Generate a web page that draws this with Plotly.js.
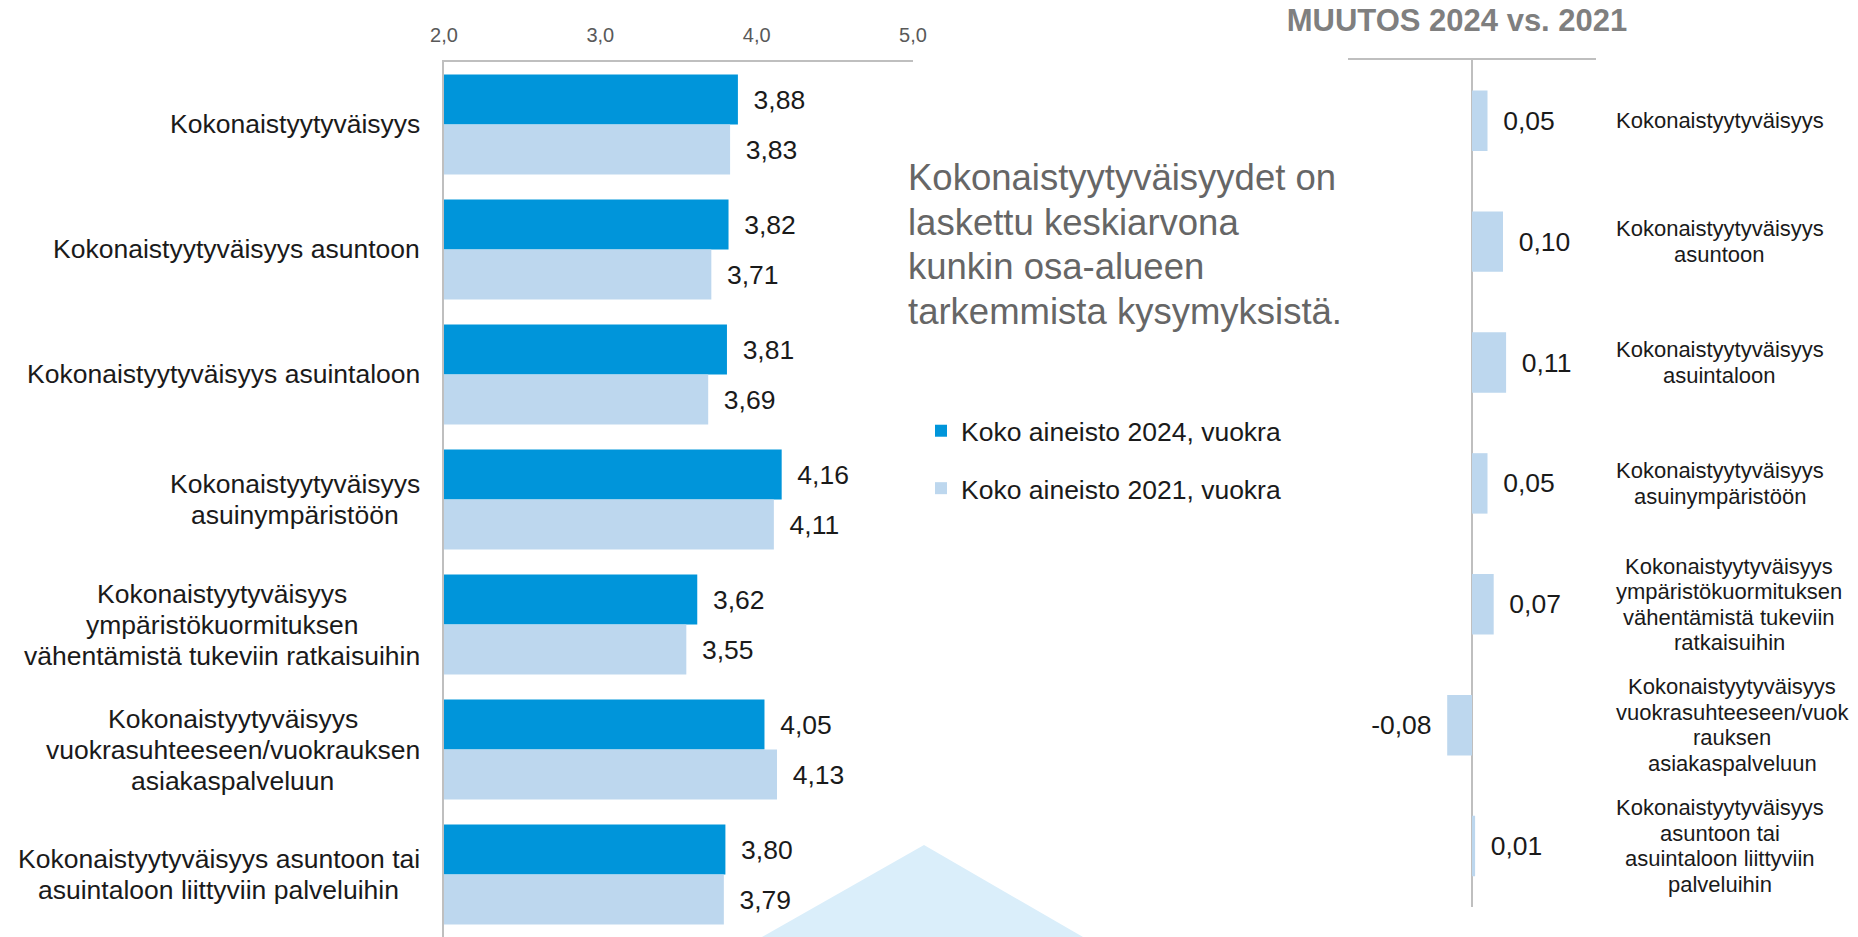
<!DOCTYPE html>
<html><head><meta charset="utf-8">
<script src="https://cdn.plot.ly/plotly-3.0.1.min.js"></script>
<style>html,body{margin:0;padding:0;background:#fff}#chart{width:1858px;height:937px}</style>
</head><body><div id="chart"></div>
<script>
// ---- data ----
const categories = [
  'Kokonaistyytyväisyys',
  'Kokonaistyytyväisyys asuntoon',
  'Kokonaistyytyväisyys asuintaloon',
  'Kokonaistyytyväisyys asuinympäristöön',
  'Kokonaistyytyväisyys ympäristökuormituksen vähentämistä tukeviin ratkaisuihin',
  'Kokonaistyytyväisyys vuokrasuhteeseen/vuokrauksen asiakaspalveluun',
  'Kokonaistyytyväisyys asuntoon tai asuintaloon liittyviin palveluihin'
];
const leftLabels = [
  'Kokonaistyytyväisyys',
  'Kokonaistyytyväisyys asuntoon',
  'Kokonaistyytyväisyys asuintaloon',
  'Kokonaistyytyväisyys<br>asuinympäristöön',
  'Kokonaistyytyväisyys<br>ympäristökuormituksen<br>vähentämistä tukeviin ratkaisuihin',
  'Kokonaistyytyväisyys<br>vuokrasuhteeseen/vuokrauksen<br>asiakaspalveluun',
  'Kokonaistyytyväisyys asuntoon tai<br>asuintaloon liittyviin palveluihin'
];
const rightLabels = [
  'Kokonaistyytyväisyys',
  'Kokonaistyytyväisyys<br>asuntoon',
  'Kokonaistyytyväisyys<br>asuintaloon',
  'Kokonaistyytyväisyys<br>asuinympäristöön',
  'Kokonaistyytyväisyys<br>ympäristökuormituksen<br>vähentämistä tukeviin<br>ratkaisuihin',
  'Kokonaistyytyväisyys<br>vuokrasuhteeseen/vuok<br>rauksen<br>asiakaspalveluun',
  'Kokonaistyytyväisyys<br>asuntoon tai<br>asuintaloon liittyviin<br>palveluihin'
];
const values2024 = [3.88, 3.82, 3.81, 4.16, 3.62, 4.05, 3.80];
const values2021 = [3.83, 3.71, 3.69, 4.11, 3.55, 4.13, 3.79];
const change = [0.05, 0.10, 0.11, 0.05, 0.07, -0.08, 0.01];
const tickValues = [2, 3, 4, 5];
const seriesNames = ['Koko aineisto 2024, vuokra', 'Koko aineisto 2021, vuokra'];
const changeTitle = 'MUUTOS 2024 vs. 2021';
const noteLines = ['Kokonaistyytyväisyydet on', 'laskettu keskiarvona', 'kunkin osa-alueen', 'tarkemmista kysymyksistä.'];

// ---- helpers ----
const W = 1858, H = 937;
const FONT = '"Liberation Sans", Arial, sans-serif';
const px = x => x / W, py = y => 1 - y / H;
const ctx = document.createElement('canvas').getContext('2d');
const textW = (s, size) => { ctx.font = size + 'px ' + FONT; return ctx.measureText(s).width; };
const fmt = v => v.toFixed(2).replace('.', ',');
const PAD = '\u00a0\u2009';

const C_DARK = '#0095da', C_LIGHT = '#bdd7ee', C_AXIS = '#bfbfbf';

const traces = [
  {type:'bar', orientation:'h', name: seriesNames[0], x: values2024, y: categories,
   marker:{color:C_DARK}, text: values2024.map(v => PAD + fmt(v)), textposition:'outside',
   textfont:{family:FONT, size:26.5, color:'#1a1a1a'}, constraintext:'none', cliponaxis:false,
   hoverinfo:'skip', legendgroup:'a', xaxis:'x', yaxis:'y'},
  {type:'bar', orientation:'h', name: seriesNames[1], x: values2021, y: categories,
   marker:{color:C_LIGHT}, text: values2021.map(v => PAD + fmt(v)), textposition:'outside',
   textfont:{family:FONT, size:26.5, color:'#1a1a1a'}, constraintext:'none', cliponaxis:false,
   hoverinfo:'skip', legendgroup:'b', xaxis:'x', yaxis:'y'},
  {type:'bar', orientation:'h', name:'Muutos', x: change, y: categories, width:0.5,
   marker:{color:C_LIGHT}, text: change.map(v => v < 0 ? fmt(v) + PAD : PAD + fmt(v)), textposition:'outside',
   textfont:{family:FONT, size:26.5, color:'#1a1a1a'}, constraintext:'none', cliponaxis:false,
   hoverinfo:'skip', showlegend:false, xaxis:'x2', yaxis:'y2'}
];

const annotations = [];
leftLabels.forEach((lab, i) => {
  const lines = lab.split('<br>');
  const maxW = Math.max(...lines.map(l => textW(l, 26.5)));
  const cx = px(420 - maxW / 2);
  lines.forEach((ln, j) => annotations.push({
    xref:'paper', yref:'y', x: cx, y: categories[i], xanchor:'center', yanchor:'middle',
    yshift: ((lines.length - 1) / 2 - j) * 31, text: ln, showarrow:false,
    font:{family:FONT, size:26.5, color:'#1a1a1a'}
  }));
});
rightLabels.forEach((lab, i) => {
  const lines = lab.split('<br>');
  const maxW = Math.max(...lines.map(l => textW(l, 22)));
  const cx = px(1616 + maxW / 2);
  lines.forEach((ln, j) => annotations.push({
    xref:'paper', yref:'y2', x: cx, y: categories[i], xanchor:'center', yanchor:'middle',
    yshift: ((lines.length - 1) / 2 - j) * 25.5, text: ln, showarrow:false,
    font:{family:FONT, size:22, color:'#1a1a1a'}
  }));
});
const noteY = [177.6, 222.5, 267, 311.5];
noteLines.forEach((ln, j) => annotations.push({
  xref:'paper', yref:'paper', x: px(906), y: py(noteY[j]), xanchor:'left', yanchor:'middle',
  text: ln, showarrow:false, font:{family:FONT, size:36.5, color:'#666666'}
}));

const layout = {
  width:W, height:H, margin:{l:0, r:0, t:0, b:0},
  paper_bgcolor:'#ffffff', plot_bgcolor:'rgba(0,0,0,0)',
  separators:', ',
  barmode:'group', bargap:0.2, bargroupgap:0,
  font:{family:FONT, color:'#1a1a1a'},
  xaxis:{domain:[px(444), px(913)], range:[2, 5], side:'top', anchor:'y', tickvals:tickValues,
         tickformat:'.1f', showgrid:false, zeroline:false, showline:true, linecolor:C_AXIS, linewidth:2,
         ticks:'', ticklabelstandoff:10, tickfont:{family:FONT, size:20, color:'#595959'}, fixedrange:true},
  yaxis:{domain:[0, py(62)], type:'category', autorange:'reversed', anchor:'x', showticklabels:false,
         showline:true, linecolor:C_AXIS, linewidth:2, showgrid:false, zeroline:false, ticks:'', fixedrange:true},
  xaxis2:{domain:[px(1348), px(1596)], range:[-0.4, 0.4], side:'top', anchor:'y2', showticklabels:false,
          showgrid:false, zeroline:true, zerolinecolor:C_AXIS, zerolinewidth:2, showline:true,
          linecolor:C_AXIS, linewidth:2, ticks:'', fixedrange:true},
  yaxis2:{domain:[py(906.5), py(60.3)], type:'category', autorange:'reversed', anchor:'x2',
          showticklabels:false, showline:false, showgrid:false, zeroline:false, ticks:'', fixedrange:true},
  legend:{x:px(921), xanchor:'left', y:py(407), yanchor:'top', traceorder:'grouped', tracegroupgap:20,
          font:{family:FONT, size:26.5, color:'#1a1a1a'}, bgcolor:'rgba(0,0,0,0)', itemwidth:30},
  title:{text:changeTitle, xref:'paper', x:px(1457), xanchor:'center', yref:'container', y:py(20), yanchor:'middle',
         font:{family:FONT, size:31, color:'#7f7f7f', weight:'bold'}},
  shapes:[{type:'path', xref:'paper', yref:'paper', layer:'below',
           path:`M ${px(762)},${py(937)} L ${px(924)},${py(845)} L ${px(1083)},${py(937)} Z`,
           fillcolor:'#daeefa', line:{width:0}}],
  annotations
};

Plotly.newPlot('chart', traces, layout, {displayModeBar:false, staticPlot:true});
</script>
</body></html>
